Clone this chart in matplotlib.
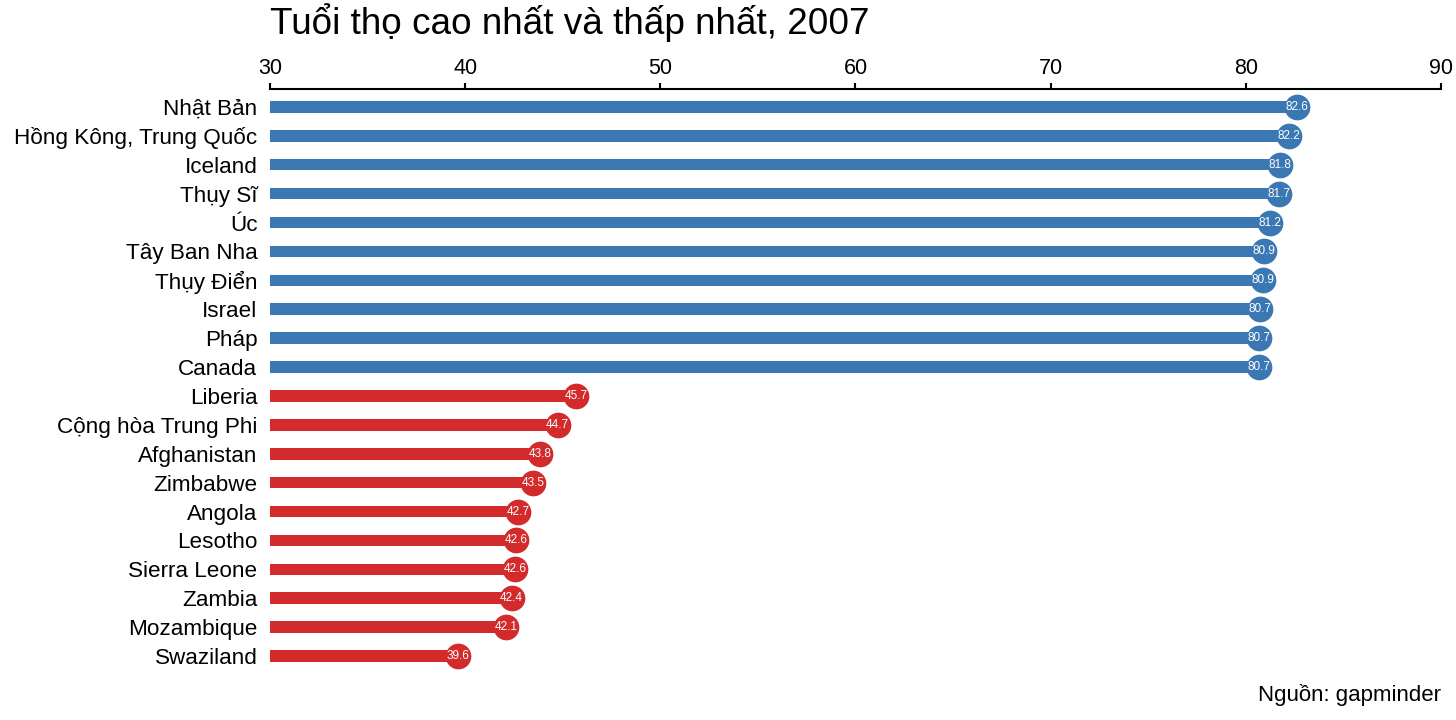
import matplotlib
matplotlib.use('Agg')
import matplotlib.pyplot as plt

# life expectancy 2007, highest 10 and lowest 10 (gapminder)
countries = ['Nhật Bản', 'Hồng Kông, Trung Quốc', 'Iceland', 'Thụy Sĩ', 'Úc',
             'Tây Ban Nha', 'Thụy Điển', 'Israel', 'Pháp', 'Canada',
             'Liberia', 'Cộng hòa Trung Phi', 'Afghanistan', 'Zimbabwe', 'Angola',
             'Lesotho', 'Sierra Leone', 'Zambia', 'Mozambique', 'Swaziland']
life_exp = [82.603, 82.208, 81.757, 81.701, 81.235, 80.941, 80.884, 80.745, 80.657, 80.653,
            45.678, 44.741, 43.828, 43.487, 42.731, 42.592, 42.568, 42.384, 42.082, 39.613]
group = ['high'] * 10 + ['low'] * 10
xticks = [30, 40, 50, 60, 70, 80, 90]

C_HIGH, C_LOW = '#3b77b2', '#d32a2c'

plt.rcParams['font.family'] = ['Liberation Sans', 'DejaVu Sans']

fig = plt.figure(figsize=(14.56, 7.2), dpi=100)
ax = fig.add_axes([0.1854, 0.0639, 0.8043, 0.8125])

base = xticks[0]
for i, (v, g) in enumerate(zip(life_exp, group)):
    c = C_HIGH if g == 'high' else C_LOW
    ax.barh(i, v - base, left=base, height=0.4, color=c, zorder=2)
    ax.plot(v, i, 'o', ms=17.5, color=c, zorder=3)
    ax.text(v, i, f'{v:.1f}', color='white', fontsize=8.5, ha='center', va='center', zorder=4)

ax.set_xlim(xticks[0], xticks[-1])
ax.set_ylim(len(countries) - 1 + 0.62, -0.62)
ax.set_yticks(range(len(countries)))
ax.set_yticklabels(countries, fontsize=16.2)
ax.tick_params(axis='y', length=0, pad=9)

ax.xaxis.tick_top()
ax.set_xticks(xticks)
ax.tick_params(axis='x', labelsize=15.5, length=4, width=1.5, pad=3)
for s in ['left', 'right', 'bottom']:
    ax.spines[s].set_visible(False)
ax.spines['top'].set_linewidth(1.5)

fig.text(0.1854, 0.942, 'Tuổi thọ cao nhất và thấp nhất, 2007', fontsize=26.6, ha='left', va='bottom')
fig.text(0.9897, 0.02, 'Nguồn: gapminder', fontsize=16, ha='right', va='bottom')

fig.savefig('out.png', dpi=100)
